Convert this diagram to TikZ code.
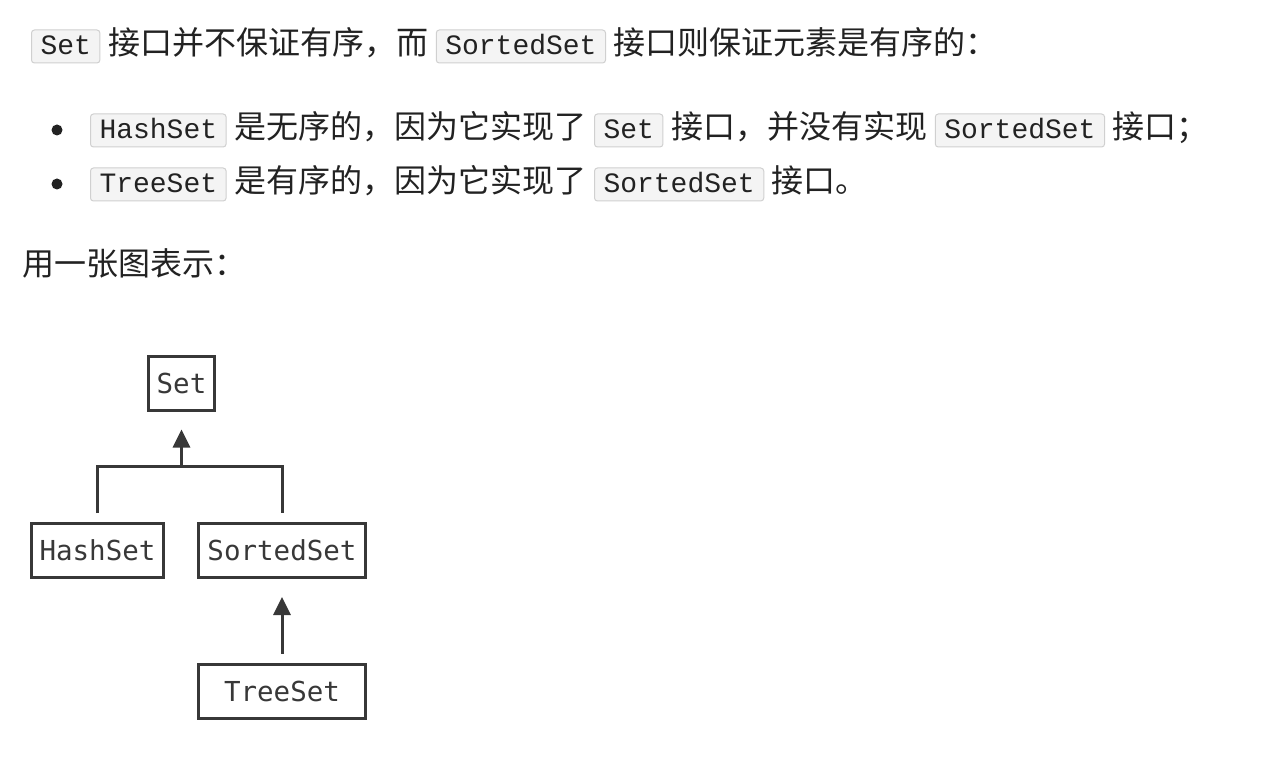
\documentclass[tikz,border=0pt]{standalone}
\usepackage{fontspec}
\usetikzlibrary{arrows.meta}
\newfontfamily\cjk{Noto Sans CJK SC}
\newfontfamily\codefont{Liberation Mono}
\newfontfamily\diagfont{DejaVu Sans Mono}
\definecolor{ink}{HTML}{222222}
\definecolor{codebg}{HTML}{F4F4F4}
\definecolor{codeline}{HTML}{D0D0D0}
\definecolor{codeink}{HTML}{222222}
\definecolor{diag}{HTML}{383838}
\tikzset{
  txt/.style={inner sep=0pt, anchor=base west, text=ink, font=\cjk\fontsize{32pt}{38pt}\selectfont},
  code/.style={anchor=base west, draw=codeline, fill=codebg, line width=1pt, rounded corners=3pt,
    inner xsep=9pt, inner ysep=3pt, text height=22pt, text depth=5pt, text=codeink,
    font=\codefont\fontsize{28pt}{32pt}\selectfont},
  cls/.style={draw=diag, line width=3pt, text=diag, inner xsep=8.5pt, minimum height=54pt,
    font=\diagfont\fontsize{27.5pt}{32pt}\selectfont},
  wide/.style={minimum width=167pt},
  conn/.style={draw=diag, line width=3pt},
  inh/.style={conn, -{Triangle[length=18pt, width=17pt]}},
}
\begin{document}
\begin{tikzpicture}[x=1pt, y=-1pt]
\useasboundingbox[fill=white] (0,0) rectangle (1270,762);
% line 1
\node[code] (c1) at (31,55) {Set};
\node[txt] (t1) at ([xshift=7.5pt]c1.base east) {接口并不保证有序，而};
\node[code] (c2) at ([xshift=7.5pt]t1.base east) {SortedSet};
\node[txt] (t2) at ([xshift=7.5pt]c2.base east) {接口则保证元素是有序的：};
% line 2
\fill[ink] (57,130) circle (5.5pt);
\node[code] (c3) at (90,139) {HashSet};
\node[txt] (t3) at ([xshift=7.5pt]c3.base east) {是无序的，因为它实现了};
\node[code] (c4) at ([xshift=7.5pt]t3.base east) {Set};
\node[txt] (t4) at ([xshift=7.5pt]c4.base east) {接口，并没有实现};
\node[code] (c5) at ([xshift=7.5pt]t4.base east) {SortedSet};
\node[txt] (t5) at ([xshift=7.5pt]c5.base east) {接口；};
% line 3
\fill[ink] (57,184) circle (5.5pt);
\node[code] (c6) at (90,193) {TreeSet};
\node[txt] (t6) at ([xshift=7.5pt]c6.base east) {是有序的，因为它实现了};
\node[code] (c7) at ([xshift=7.5pt]t6.base east) {SortedSet};
\node[txt] (t7) at ([xshift=7.5pt]c7.base east) {接口。};
% line 4
\node[txt] (t8) at (22,276) {用一张图表示：};
% diagram
\node[cls] (set) at (181.5,383) {Set};
\node[cls] (hash) at (97.5,550.5) {HashSet};
\node[cls, wide] (sorted) at (282,550.5) {SortedSet};
\node[cls, wide] (tree) at (282,691) {TreeSet};
\coordinate (j) at (181.5,466);
\draw[conn] ([yshift=9pt]hash.north) |- (sorted.north |- j) -- ([yshift=9pt]sorted.north);
\draw[inh] (j) -- ([yshift=-18pt]set.south);
\draw[inh] ([yshift=9pt]tree.north) -- ([yshift=-18pt]sorted.south);
\end{tikzpicture}
\end{document}
